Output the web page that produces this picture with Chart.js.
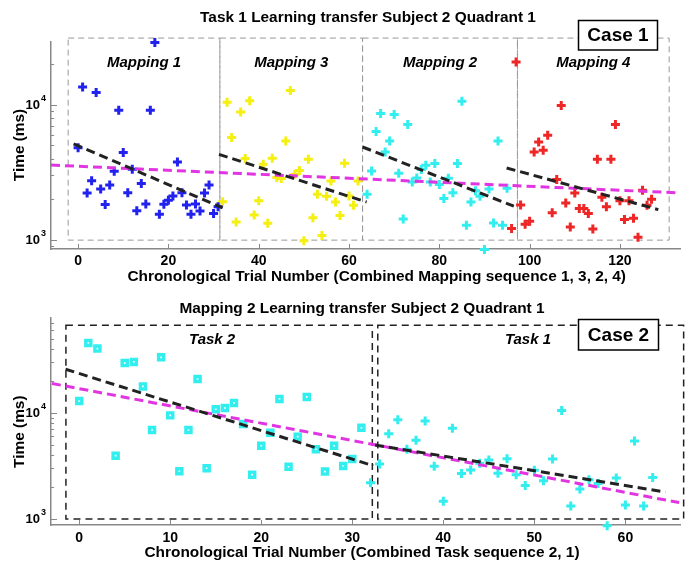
<!DOCTYPE html>
<html>
<head>
<meta charset="utf-8">
<script src="https://cdn.jsdelivr.net/npm/chart.js@4.4.0/dist/chart.umd.min.js"></script>
<style>
  body { margin: 0; background: #fff; }
  #quadro { position: relative; width: 693px; height: 561px; }
  .bloco { position: absolute; left: 0; width: 693px; }
</style>
</head>
<body>
<div id="quadro">
  <div class="bloco" style="top:0;height:290px"><canvas id="graficoCaso1" width="693" height="290"></canvas></div>
  <div class="bloco" style="top:290px;height:271px"><canvas id="graficoCaso2" width="693" height="271"></canvas></div>
</div>
<script>
// ---------- Caso 1: Task 1, sequencia de mapeamentos 1, 3, 2, 4 ----------
const tentativasM1 = [0, 1, 2, 3, 4, 5, 6, 7, 8, 9, 10, 11, 12, 13, 14, 15, 16, 17, 18, 19, 20, 21, 22, 23, 24, 25, 26, 27, 28, 29, 30, 31];
const temposM1 = [4800, 13500, 2230, 2740, 12300, 2380, 1830, 2550, 3220, 9080, 4430, 2240, 3340, 1650, 2620, 1850, 9080, 28700, 1550, 1840, 1970, 2120, 3770, 2240, 1820, 1550, 1850, 1640, 2230, 2550, 1570, 1760];

const tentativasM3 = [32, 33, 34, 35, 36, 37, 38, 39, 40, 41, 42, 43, 44, 45, 46, 47, 48, 49, 50, 51, 52, 53, 54, 55, 56, 57, 58, 59, 60, 61, 62];
const temposM3 = [1920, 10400, 5710, 1360, 8810, 4000, 10700, 1530, 1950, 3630, 1330, 4020, 2900, 2850, 5400, 12700, 3060, 3270, 990, 3950, 1460, 2180, 1080, 2110, 2730, 1910, 1520, 3690, 2120, 1810, 2730];

const tentativasM2 = [64, 65, 66, 67, 68, 69, 70, 71, 72, 73, 74, 75, 76, 77, 78, 79, 80, 81, 82, 83, 84, 85, 86, 87, 88, 89, 90, 91, 92, 93, 94, 95];
const temposM2 = [2180, 3240, 6330, 8590, 4480, 5400, 8440, 3120, 1430, 7130, 2690, 2880, 3320, 3570, 2690, 3670, 2570, 2030, 2860, 2240, 3670, 10600, 1290, 1910, 2310, 2110, 854, 2380, 1340, 5400, 1290, 2410];

const tentativasM4 = [96, 97, 98, 99, 100, 101, 102, 103, 104, 105, 106, 107, 108, 109, 110, 111, 112, 113, 114, 115, 116, 117, 118, 119, 120, 121, 122, 123, 124, 125, 126, 127];
const temposM4 = [1220, 20600, 1820, 1310, 1380, 4480, 5290, 4600, 5940, 1590, 2800, 9840, 1880, 1250, 2230, 1710, 1710, 1570, 1210, 3950, 2070, 1760, 3950, 7130, 1950, 1420, 1950, 1450, 1050, 2330, 1810, 2000];

// retas de tendencia (extremos)
const tendM1X = [-1, 32], tendM1Y = [5140, 1730];
const tendM3X = [31.2, 63.9], tendM3Y = [4300, 1910];
const tendM2X = [63, 96.5], tendM2Y = [4870, 1780];
const tendM4X = [94.9, 128.5], tendM4Y = [3410, 1680];
const tendGeral1X = [-6, 133.3], tendGeral1Y = [3580, 2230];

const nomesMapeamento = ["Mapping 1", "Mapping 3", "Mapping 2", "Mapping 4"];
const limitesMapeamento = [-2.2, 31.4, 63, 97.3, 130.9];

// ---------- Caso 2: Mapping 2, sequencia de tarefas 2, 1 ----------
const tentativasT2 = [0, 1, 2, 4, 5, 6, 7, 8, 9, 10, 11, 12, 13, 14, 15, 16, 17, 18, 19, 20, 21, 22, 23, 24, 25, 26, 27, 28, 29, 30, 31];
const temposT2 = [12900, 45400, 40200, 3950, 29400, 30100, 17700, 6890, 33300, 9460, 2820, 6890, 20800, 3010, 10800, 11100, 12400, 7840, 2620, 4900, 6480, 13500, 3110, 5960, 14100, 4540, 2800, 4900, 3160, 3680, 7230];

const tentativasT1 = [32, 33, 34, 35, 36, 37, 38, 39, 40, 41, 42, 43, 44, 45, 46, 47, 48, 49, 50, 51, 52, 53, 54, 55, 56, 57, 58, 59, 60, 61, 62, 63];
const temposT1 = [2200, 3300, 6360, 8590, 4540, 5510, 8360, 3140, 1470, 7150, 2680, 2900, 3350, 3600, 2700, 3700, 2610, 2070, 2880, 2290, 3680, 10500, 1330, 1920, 2350, 2160, 865, 2430, 1360, 5430, 1330, 2460];

const tendT2X = [-1.5, 32.3], tendT2Y = [25700, 3180];
const tendT1X = [32.5, 64.4], tendT1Y = [4980, 1800];
const tendGeral2X = [-3, 65.9], tendGeral2Y = [18900, 1430];

const nomesTarefa = ["Task 2", "Task 1"];
const posicaoNomesTarefa = [14.6, 49.3];
const caixasTarefa = [[-1.46, 32.2], [32.8, 66.4]];

const AZUL = "#2222ee", AMARELO = "#f6ef12", CIANO = "#33eeee", VERMELHO = "#ee2626", MAGENTA = "#e235e2";
const FONTE = "'Liberation Sans', Arial, sans-serif";

function pares(xs, ys) {
  let lista = [];
  for (let i = 0; i < xs.length; i++) {
    lista.push({ x: xs[i], y: ys[i] });
  }
  return lista;
}

function serieCruz(xs, ys, cor) {
  return {
    data: pares(xs, ys),
    pointStyle: "cross",
    pointRadius: 4.5,
    borderColor: cor,
    backgroundColor: cor,
    borderWidth: 3,
    clip: false,
  };
}

function serieReta(xs, ys, cor) {
  return {
    data: pares(xs, ys),
    showLine: true,
    pointRadius: 0,
    borderColor: cor,
    borderWidth: 3,
    borderDash: [9, 5],
    clip: false,
  };
}

function texto(ctx, t, x, y, tamanho, estilo, alinhar, base) {
  ctx.font = estilo + " " + tamanho + "px " + FONTE;
  ctx.textAlign = alinhar || "center";
  ctx.textBaseline = base || "alphabetic";
  ctx.fillStyle = "#000";
  ctx.fillText(t, x, y);
}

// caixas tracejadas, marcas de escala, rotulos 10^n, titulos e "Case n"
function pluginAnotacoes(cfg) {
  return {
    id: "anotacoes",
    beforeDatasetsDraw(chart) {
      const ctx = chart.ctx, sx = chart.scales.x, sy = chart.scales.y;
      ctx.save();
      ctx.strokeStyle = cfg.corCaixa;
      ctx.lineWidth = cfg.larguraCaixa;
      ctx.setLineDash(cfg.tracoCaixa);
      const yb = sy.getPixelForValue(cfg.caixaY[0]);
      const yt = sy.getPixelForValue(cfg.caixaY[1]);
      cfg.caixas.forEach(function (c) {
        const x0 = sx.getPixelForValue(c[0]);
        const x1 = sx.getPixelForValue(c[1]);
        ctx.strokeRect(x0, yt, x1 - x0, yb - yt);
      });
      ctx.restore();
    },
    afterDatasetsDraw(chart) {
      const ctx = chart.ctx, sx = chart.scales.x, sy = chart.scales.y;
      const area = chart.chartArea;
      ctx.save();

      // marcas para dentro
      ctx.strokeStyle = "#888";
      ctx.lineWidth = 1;
      ctx.setLineDash([]);
      sx.ticks.forEach(function (t) {
        const px = Math.round(sx.getPixelForValue(t.value)) + 0.5;
        ctx.beginPath();
        ctx.moveTo(px, area.bottom);
        ctx.lineTo(px, area.bottom - 5);
        ctx.stroke();
      });
      sy.ticks.forEach(function (t) {
        const e = Math.log10(t.value);
        const dec = Math.floor(e + 1e-9);
        const mant = t.value / Math.pow(10, dec);
        if (Math.abs(mant - Math.round(mant)) > 1e-6) return;
        const py = Math.round(sy.getPixelForValue(t.value)) + 0.5;
        const maior = Math.round(mant) === 1;
        ctx.beginPath();
        ctx.moveTo(area.left, py);
        ctx.lineTo(area.left + (maior ? 6 : 3), py);
        ctx.stroke();
        if (maior) {
          texto(ctx, "10", 40, py, 13, "bold", "right", "middle");
          texto(ctx, String(dec), 41, py - 7, 9, "bold", "left", "middle");
        }
      });

      // nomes das regioes
      cfg.nomes.forEach(function (n) {
        texto(ctx, n.t, sx.getPixelForValue(n.x), n.y, 15, "italic bold");
      });

      // caixa "Case"
      const c = cfg.caso;
      ctx.fillStyle = "#fff";
      ctx.fillRect(c.x, c.y, c.w, c.h);
      ctx.strokeStyle = "#000";
      ctx.lineWidth = 1.5;
      ctx.strokeRect(c.x, c.y, c.w, c.h);
      texto(ctx, c.t, c.x + c.w / 2, c.y + c.h / 2 + 1, 19, "bold", "center", "middle");

      // titulos
      texto(ctx, cfg.titulo, cfg.tituloX, cfg.tituloY, 15.4, "bold");
      texto(ctx, cfg.rotuloX, cfg.rotuloXx, cfg.rotuloXy, 15.4, "bold");
      ctx.save();
      ctx.translate(20, cfg.rotuloYy);
      ctx.rotate(-Math.PI / 2);
      texto(ctx, "Time (ms)", 0, 0, 15.4, "bold", "center", "middle");
      ctx.restore();

      ctx.restore();
    },
  };
}

function opcoesEscalas(xMin, xMax, passo, yMin, yMax, altX, padTicks) {
  return {
    x: {
      type: "linear",
      min: xMin,
      max: xMax,
      grid: { display: false, drawTicks: false },
      border: { display: true, color: "#888", width: 1.5 },
      ticks: {
        stepSize: passo,
        includeBounds: false,
        color: "#000",
        padding: padTicks,
        font: { family: FONTE, size: 14, weight: "bold" },
      },
      afterFit: function (s) { s.height = altX; },
    },
    y: {
      type: "logarithmic",
      min: yMin,
      max: yMax,
      grid: { display: false, drawTicks: false },
      border: { display: true, color: "#888", width: 1.5 },
      ticks: { display: false },
      afterFit: function (s) { s.width = 51; },
    },
  };
}

const caixasMapeamento = [];
for (let i = 0; i < nomesMapeamento.length; i++) {
  caixasMapeamento.push([limitesMapeamento[i], limitesMapeamento[i + 1]]);
}

new Chart(document.getElementById("graficoCaso1"), {
  type: "scatter",
  data: {
    datasets: [
      serieReta(tendM1X, tendM1Y, "#222"),
      serieReta(tendM3X, tendM3Y, "#222"),
      serieReta(tendM2X, tendM2Y, "#222"),
      serieReta(tendM4X, tendM4Y, "#222"),
      serieReta(tendGeral1X, tendGeral1Y, MAGENTA),
      serieCruz(tentativasM1, temposM1, AZUL),
      serieCruz(tentativasM3, temposM3, AMARELO),
      serieCruz(tentativasM2, temposM2, CIANO),
      serieCruz(tentativasM4, temposM4, VERMELHO),
    ],
  },
  plugins: [
    pluginAnotacoes({
      caixas: caixasMapeamento,
      caixaY: [1000, 31000],
      corCaixa: "#999",
      larguraCaixa: 1,
      tracoCaixa: [6, 4],
      nomes: nomesMapeamento.map(function (n, i) {
        return { t: n, x: (caixasMapeamento[i][0] + caixasMapeamento[i][1]) / 2, y: 67 };
      }),
      caso: { t: "Case 1", x: 578.5, y: 20.5, w: 79, h: 29.5 },
      titulo: "Task 1 Learning transfer Subject 2 Quadrant 1",
      tituloX: 368,
      tituloY: 22,
      rotuloX: "Chronological Trial Number (Combined Mapping sequence 1, 3, 2, 4)",
      rotuloXx: 376.7,
      rotuloXy: 281,
      rotuloYy: 145,
    }),
  ],
  options: {
    responsive: false,
    animation: false,
    events: [],
    layout: { padding: { top: 42, right: 13, left: 0, bottom: 0 } },
    plugins: { legend: { display: false }, tooltip: { enabled: false } },
    scales: opcoesEscalas(-6, 133.3, 20, 860, 29000, 41, 4),
  },
});

const serieQuadrados = {
  data: pares(tentativasT2, temposT2),
  pointStyle: "rect",
  pointRadius: 3.6,
  borderColor: CIANO,
  backgroundColor: "#fff",
  borderWidth: 3.4,
  clip: false,
};

new Chart(document.getElementById("graficoCaso2"), {
  type: "scatter",
  data: {
    datasets: [
      serieReta(tendT2X, tendT2Y, "#222"),
      serieReta(tendT1X, tendT1Y, "#222"),
      serieReta(tendGeral2X, tendGeral2Y, MAGENTA),
      serieQuadrados,
      serieCruz(tentativasT1, temposT1, CIANO),
    ],
  },
  plugins: [
    pluginAnotacoes({
      caixas: caixasTarefa,
      caixaY: [1000, 66500],
      corCaixa: "#222",
      larguraCaixa: 1.5,
      tracoCaixa: [7, 5],
      nomes: nomesTarefa.map(function (n, i) {
        return { t: n, x: posicaoNomesTarefa[i], y: 54 };
      }),
      caso: { t: "Case 2", x: 578.5, y: 29.5, w: 80, h: 30.5 },
      titulo: "Mapping 2 Learning transfer Subject 2 Quadrant 1",
      tituloX: 362,
      tituloY: 23.3,
      rotuloX: "Chronological Trial Number (Combined Task sequence 2, 1)",
      rotuloXx: 362,
      rotuloXy: 266.7,
      rotuloYy: 141.7,
    }),
  ],
  options: {
    responsive: false,
    animation: false,
    events: [],
    layout: { padding: { top: 28, right: 13, left: 0, bottom: 0 } },
    plugins: { legend: { display: false }, tooltip: { enabled: false } },
    scales: opcoesEscalas(-3.1, 66, 10, 880, 78000, 36, 5),
  },
});
</script>
</body>
</html>
